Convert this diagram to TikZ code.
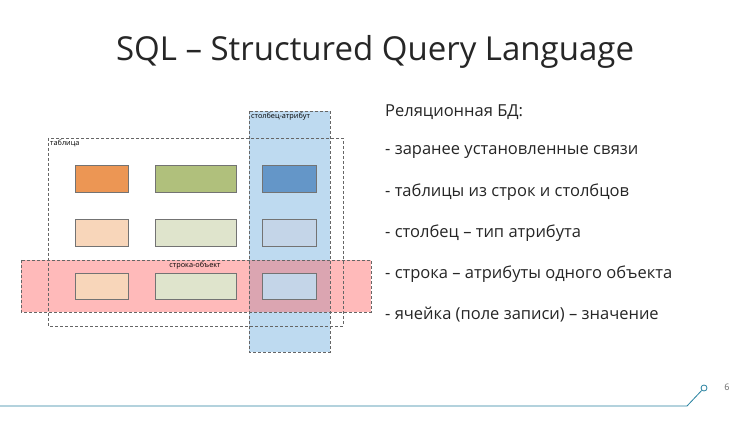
\documentclass[tikz,border=0pt]{standalone}
\usepackage{fontspec}
\setmainfont{Open Sans}
\definecolor{teal1}{RGB}{40,130,160}
\definecolor{colblue}{RGB}{190,218,240}
\definecolor{c11}{RGB}{236,150,84}
\definecolor{c12}{RGB}{176,192,124}
\definecolor{c13}{RGB}{100,150,200}
\definecolor{c21}{RGB}{248,214,186}
\definecolor{c22}{RGB}{223,228,204}
\definecolor{c23}{RGB}{196,213,232}
\begin{document}
\begin{tikzpicture}[x=1pt,y=-1pt,
  dbox/.style={draw=black!60,dash pattern=on 3pt off 2pt,line width=0.8pt},
  cell/.style={draw=black!55,line width=0.6pt},
  lbl/.style={font=\fontsize{7.3}{8}\selectfont,inner sep=1pt},
  bul/.style={anchor=west,font=\fontsize{16.5}{19}\selectfont,text=black!85,inner sep=0}]
\useasboundingbox (0,0) rectangle (750,422);
\fill[white] (0,0) rectangle (750,422);
\node (title) at (375,52) {\fontsize{33}{38}\selectfont\color{black!85}SQL – Structured Query Language};
\fill[colblue] (249,111) rectangle (330,352);
\fill[red!60!white,opacity=0.45] (21,260) rectangle (371,312);
\draw[dbox] (48,138) rectangle (343,326);
\draw[dbox] (249,111) rectangle (330,352);
\draw[dbox] (21,260) rectangle (371,312);
\node[anchor=north west,lbl] (t1) at (49,139) {таблица};
\node[anchor=north west,lbl] (t2) at (250,112) {столбец-атрибут};
\node[anchor=north,lbl] (t3) at (195,261) {строка-объект};
\filldraw[cell,fill=c11] (75,165) rectangle (128,192);
\filldraw[cell,fill=c12] (155,165) rectangle (236,192);
\filldraw[cell,fill=c13] (262,165) rectangle (316,192);
\filldraw[cell,fill=c21] (75,219) rectangle (128,246);
\filldraw[cell,fill=c22] (155,219) rectangle (236,246);
\filldraw[cell,fill=c23] (262,219) rectangle (316,246);
\filldraw[cell,fill=c21] (75,273) rectangle (128,299);
\filldraw[cell,fill=c22] (155,273) rectangle (236,299);
\filldraw[cell,fill=c23] (262,273) rectangle (316,299);
\node[bul] (b0) at (385,112) {Реляционная БД:};
\node[bul] (b1) at (385,152) {- заранее установленные связи};
\node[bul] (b2) at (385,192) {- таблицы из строк и столбцов};
\node[bul] (b3) at (385,233) {- столбец – тип атрибута};
\node[bul] (b4) at (385,274) {- строка – атрибуты одного объекта};
\node[bul] (b5) at (385,315) {- ячейка (поле записи) – значение};
\coordinate (l0) at (0,406);
\coordinate (l1) at (687,406);
\node[circle,draw=teal1,line width=0.8pt,inner sep=0,minimum size=6pt] (c) at (704,388) {};
\draw[teal1,line width=0.8pt] (l0) -- (l1) -- (c);
\node[font=\fontsize{9}{10}\selectfont,text=black!60] (pg) at (727,387) {6};
\end{tikzpicture}
\end{document}
